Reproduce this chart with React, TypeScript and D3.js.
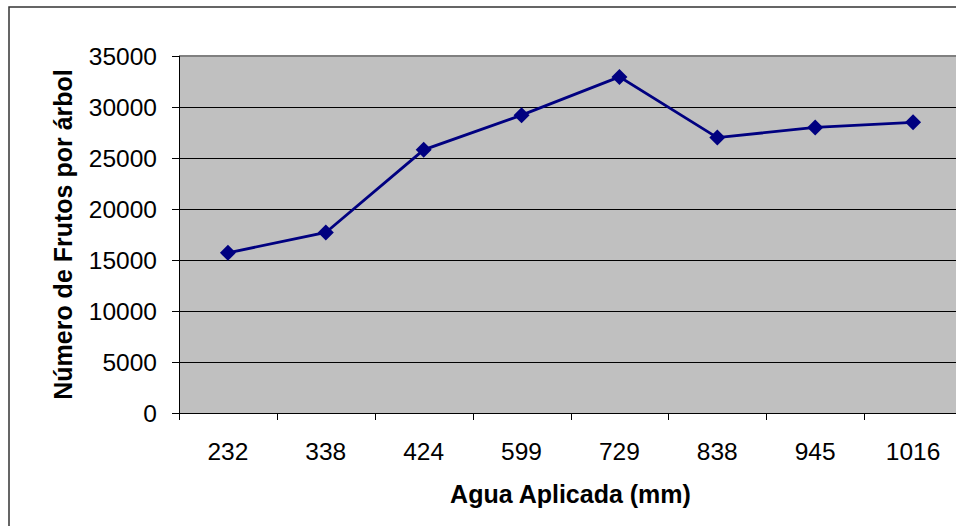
import React from "react";
import * as d3 from "d3";

const categories = ["232", "338", "424", "599", "729", "838", "945", "1016"];
const values = [15700, 17700, 25800, 29200, 32950, 27000, 28000, 28500];
const yTicks = [0, 5000, 10000, 15000, 20000, 25000, 30000, 35000];
const xTitle = "Agua Aplicada (mm)";
const yTitle = "Número de Frutos por árbol";

export default function App() {
  const W = 956, H = 526;
  const left = 179, right = 962, top = 56, bottom = 413;
  const x = d3.scaleBand<string>().domain(categories).range([left, right]);
  const y = d3.scaleLinear().domain([0, 35000]).range([bottom, top]);
  const cx = (c: string) => (x(c) as number) + x.bandwidth() / 2;
  const line = d3.line<number>().x((_, i) => cx(categories[i])).y((d) => y(d));
  const font = "'Liberation Sans', Arial, sans-serif";
  const ds = 8;
  return (
    <svg width={W} height={H} style={{ position: "absolute", left: 0, top: 0 }} fontFamily={font}>
      <rect x={0} y={0} width={W} height={H} fill="#fff" />
      <rect x={9} y={7} width={W + 20} height={H + 20} fill="none" stroke="#333" strokeWidth={1.5} />
      <rect x={left} y={top} width={right - left} height={bottom - top} fill="#C0C0C0" />
      <line x1={left} x2={right} y1={top} y2={top} stroke="#808080" strokeWidth={2} />
      {yTicks.filter((t) => t > 0 && t < 35000).map((t) => (
        <line key={t} x1={left} x2={right} y1={Math.round(y(t)) + 0.5} y2={Math.round(y(t)) + 0.5} stroke="#000" strokeWidth={1} />
      ))}
      <line x1={left + 0.5} x2={left + 0.5} y1={top} y2={bottom + 7} stroke="#000" strokeWidth={1} />
      <line x1={left - 7} x2={right} y1={bottom + 0.5} y2={bottom + 0.5} stroke="#000" strokeWidth={1} />
      {yTicks.map((t) => (
        <g key={t}>
          <line x1={left - 7} x2={left} y1={Math.round(y(t)) + 0.5} y2={Math.round(y(t)) + 0.5} stroke="#000" />
          <text x={157} y={y(t) + 9} textAnchor="end" fontSize={24.5} fill="#000">{t}</text>
        </g>
      ))}
      {categories.map((c) => (
        <g key={c}>
          <line x1={Math.round(x(c) as number) + 0.5} x2={Math.round(x(c) as number) + 0.5} y1={bottom} y2={bottom + 7} stroke="#000" />
          <text x={cx(c)} y={460} textAnchor="middle" fontSize={24.5} fill="#000">{c}</text>
        </g>
      ))}
      <path d={line(values) || ""} fill="none" stroke="#000080" strokeWidth={2.8} />
      {values.map((v, i) => {
        const px = cx(categories[i]), py = y(v);
        return (
          <path key={i} d={`M${px},${py - ds}L${px + ds},${py}L${px},${py + ds}L${px - ds},${py}Z`} fill="#000080" />
        );
      })}
      <text x={(left + right) / 2} y={503} textAnchor="middle" fontSize={25} fontWeight="bold" fill="#000">{xTitle}</text>
      <text transform={`translate(72,${(top + bottom) / 2}) rotate(-90)`} textAnchor="middle" fontSize={25} fontWeight="bold" fill="#000">{yTitle}</text>
    </svg>
  );
}
